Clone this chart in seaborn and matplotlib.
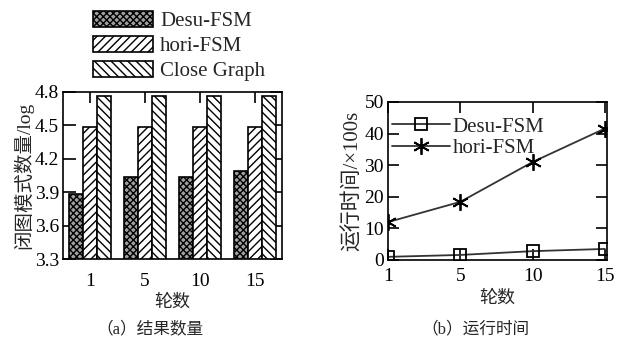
import numpy as np
import pandas as pd
import matplotlib
matplotlib.use("Agg")
import matplotlib.pyplot as plt
import seaborn as sns
from matplotlib.patches import Patch
from matplotlib.lines import Line2D

sns.set_theme(style="ticks")
plt.rcParams['font.family'] = ['Liberation Serif', 'Noto Sans CJK SC']
plt.rcParams['hatch.linewidth'] = 1.0

# ---- data ----
rounds = ['1', '5', '10', '15']
series_a = ['Desu-FSM', 'hori-FSM', 'Close Graph']
desu_count = [3.88, 4.04, 4.04, 4.09]
hori_count = [4.49, 4.49, 4.49, 4.49]
close_count = [4.76, 4.76, 4.76, 4.76]

series_b = ['Desu-FSM', 'hori-FSM']
desu_time = [1.0, 1.6, 2.8, 3.5]
hori_time = [12.0, 18.4, 31.0, 41.6]

yticks_a = [3.3, 3.6, 3.9, 4.2, 4.5, 4.8]
yticks_b = [0, 10, 20, 30, 40, 50]
ylabel_a = '闭图模式数量/log'
ylabel_b = '运行时间/×100s'
xlabel = '轮数'
caption_a = '（a）结果数量'
caption_b = '（b）运行时间'

df_a = pd.DataFrame({
    'round': rounds * 3,
    'value': desu_count + hori_count + close_count,
    'series': [series_a[0]] * 4 + [series_a[1]] * 4 + [series_a[2]] * 4,
})
df_desu = pd.DataFrame({'round': rounds, 'value': desu_time})
df_hori = pd.DataFrame({'round': rounds, 'value': hori_time})

W, H = 621, 347
fig = plt.figure(figsize=(6.21, 3.47), dpi=100)
ax1 = fig.add_axes([63 / W, 1 - 259 / H, 219 / W, 167 / H])
ax2 = fig.add_axes([388 / W, 1 - 260 / H, 219 / W, 158 / H])

hatches = ['xxxxx', '////', '\\\\\\\\']
faces = ['#a0a0a0', 'white', 'white']

sns.barplot(data=df_a, x='round', y='value', hue='series', ax=ax1,
            width=0.77, gap=0, legend=False, saturation=1,
            palette=['white'] * 3)
for cont, h, fc in zip(ax1.containers, hatches, faces):
    for p in cont:
        p.set_hatch(h)
        p.set_facecolor(fc)
        p.set_edgecolor('black')
        p.set_linewidth(1.2)
ax1.set_ylim(3.3, 4.8)
ax1.set_xlim(-0.5, 3.5)
ax1.set_yticks(yticks_a)
ax1.set_yticklabels([f'{v:.1f}' for v in yticks_a])
ax1.tick_params(axis='y', direction='in', length=9, width=1.2, labelsize=14,
                right=True, colors='black', pad=3)
ax1.tick_params(axis='x', direction='in', length=8, width=1.2, labelsize=14,
                top=True, bottom=False, colors='black', pad=10)
ax1.set_xlabel(xlabel, fontsize=13, labelpad=3)
ax1.set_ylabel(ylabel_a, fontsize=14, labelpad=1)
for s in ax1.spines.values():
    s.set_linewidth(1.2)
    s.set_color('black')

handles = [Patch(facecolor=fc, edgecolor='black', hatch=h, linewidth=1.2)
           for h, fc in zip(hatches, faces)]
fig.legend(handles, series_a, loc='upper left',
           bbox_to_anchor=(93 / W, 1 - 11 / H),
           frameon=False, fontsize=15, handlelength=2.9, handleheight=0.8,
           labelspacing=0.22, handletextpad=0.33, borderpad=0,
           borderaxespad=0)

lc = '#333333'
sns.lineplot(data=df_desu, x='round', y='value', ax=ax2, color=lc,
             marker='s', markersize=9, markerfacecolor='none',
             markeredgecolor='black', markeredgewidth=1.3, linewidth=1.3)
sns.lineplot(data=df_hori, x='round', y='value', ax=ax2, color=lc,
             marker=(6, 2, 0), markersize=12, markeredgecolor='black',
             markeredgewidth=1.3, linewidth=1.3)
ax2.set_ylim(0, 50)
ax2.set_xlim(0, 3.03)
ax2.set_yticks(yticks_b)
ax2.tick_params(direction='in', length=8, width=1.2, labelsize=14,
                top=True, right=True, colors='black', pad=3)
ax2.tick_params(axis='x', pad=6)
ax2.set_xlabel(xlabel, fontsize=13, labelpad=3)
ax2.set_ylabel(ylabel_b, fontsize=15, labelpad=1)
for s in ax2.spines.values():
    s.set_linewidth(1.2)
    s.set_color('black')
lh = [Line2D([], [], color=lc, lw=1.3, marker='s', markersize=9,
             markerfacecolor='none', markeredgecolor='black', markeredgewidth=1.3),
      Line2D([], [], color=lc, lw=1.3, marker=(6, 2, 0), markersize=12,
             markeredgecolor='black', markeredgewidth=1.3)]
ax2.legend(lh, series_b, loc='upper left',
           bbox_to_anchor=(392 / W, 1 - 117 / H), bbox_transform=fig.transFigure,
           frameon=False, fontsize=15, handlelength=2.8, handletextpad=0.1,
           labelspacing=0.1, borderpad=0, borderaxespad=0)

fig.text(150 / W, 1 - 333 / H, caption_a, ha='center', fontsize=12)
fig.text(475 / W, 1 - 333 / H, caption_b, ha='center', fontsize=12)

fig.savefig('out.png', dpi=100)
